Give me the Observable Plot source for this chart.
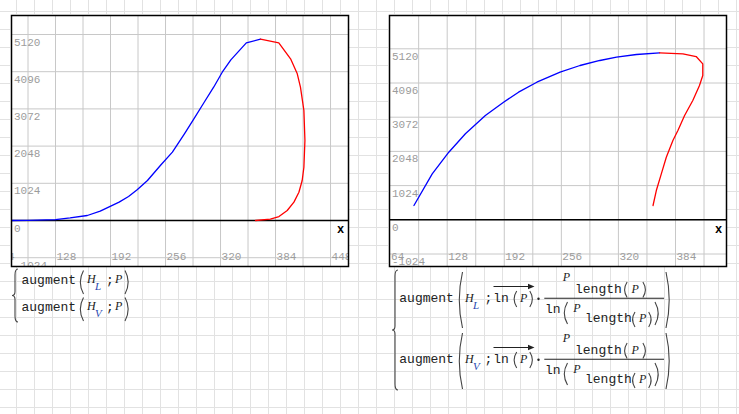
<!DOCTYPE html>
<html><head><meta charset="utf-8">
<script src="https://cdn.jsdelivr.net/npm/d3@7"></script>
<script src="https://cdn.jsdelivr.net/npm/@observablehq/plot@0.6"></script>
<style>
body{margin:0;background:#fff;}
#page{position:relative;width:739px;height:414px;overflow:hidden;background-color:#fff;
background-image:linear-gradient(to right,#e2e2e2 1px,transparent 1px),linear-gradient(to bottom,#e2e2e2 1px,transparent 1px);
background-size:18px 18px;background-position:16px 11px;}
.plotbox{position:absolute;}
#formulas{position:absolute;left:0;top:0;}
</style></head><body><div id="page">
<div id="left" class="plotbox" style="left:10px;top:14px"></div>
<div id="right" class="plotbox" style="left:388px;top:14px"></div>
<svg id="formulas" width="739" height="414"></svg>
</div>
<script>
// ---- data ----
// Left plot: augment(H_L ; P) (blue) and augment(H_V ; P) (red)
const leftLiquidH = [76, 96, 128, 145, 165, 180, 202, 213, 223, 235, 250, 264, 278, 289, 301, 312, 322, 332, 350, 366.5];
const leftLiquidP = [0, 2, 27, 73, 138, 257, 505, 661, 845, 1101, 1514, 1881, 2386, 2799, 3256, 3669, 4082, 4423, 4891, 4991];
const leftVaporH = [360.7, 378, 388, 397.6, 405.4, 411.2, 415, 417, 418.2, 417, 413, 409.3, 401.5, 387.8, 366.5];
const leftVaporP = [0, 37, 110, 275, 505, 779, 1101, 1467, 2202, 3028, 3669, 4038, 4451, 4891, 4991];
// Right plot: augment(H ; ln(P)·P_last/ln(P_last))
const rightLiquidH = [90.7, 111.2, 129.8, 148.4, 170.8, 191.2, 208, 228.5, 254.6, 276.9, 299.2, 317.9, 340.2, 366.2];
const rightLiquidY = [428, 1377, 2024, 2575, 3123, 3521, 3821, 4120, 4419, 4620, 4770, 4868, 4949, 5000];
const rightVaporH = [358.8, 362.5, 368.1, 373.7, 381.1, 386.7, 394.2, 403.4, 410.9, 414.6, 414.6, 407.2, 392.3, 366.2];
const rightVaporY = [428, 877, 1377, 1874, 2375, 2674, 3123, 3572, 4021, 4320, 4670, 4889, 4970, 5000];
// ticks
const xGridLeft = [96, 128, 160, 192, 224, 256, 288, 320, 352, 384, 416, 448];
const xLabelsLeft = [64, 128, 192, 256, 320, 384, 448];
const xGridRight = [96, 128, 160, 192, 224, 256, 288, 320, 352, 384, 416];
const xLabelsRight = [64, 128, 192, 256, 320, 384];
const yTicks = [-1024, 0, 1024, 2048, 3072, 4096, 5120];

const zip = (xs, ys) => xs.map((x, i) => ({x, y: ys[i]}));

function chart({xDomain, yDomain, blue, red, xGrid, xLabels}) {
  const tick = {fill: "#9c9c9c", fontFamily: "Liberation Mono, monospace", fontSize: 11, clip: true};
  return Plot.plot({
    width: 339, height: 253,
    marginTop: 1, marginRight: 1, marginBottom: 1, marginLeft: 1,
    x: {domain: xDomain, axis: null},
    y: {domain: yDomain, axis: null},
    style: {background: "white", overflow: "visible"},
    marks: [
      Plot.ruleX(xGrid, {x: d => d, stroke: "#c8c8c8", strokeWidth: 1, strokeOpacity: 1}),
      Plot.ruleY(yTicks, {y: d => d, stroke: "#c8c8c8", strokeWidth: 1, strokeOpacity: 1}),
      Plot.ruleY([0], {y: d => d, stroke: "black", strokeWidth: 1.4, strokeOpacity: 1}),
      Plot.line(blue, {x: "x", y: "y", stroke: "#0000ff", strokeWidth: 1.3, clip: true}),
      Plot.line(red, {x: "x", y: "y", stroke: "#ff0000", strokeWidth: 1.3, clip: true}),
      Plot.text(xLabels, {x: d => d, text: d => String(d), frameAnchor: "bottom", textAnchor: "start", dx: 1, dy: -7, ...tick}),
      Plot.text(yTicks, {y: d => d, text: d => String(d), frameAnchor: "left", textAnchor: "start", dx: 2.5, dy: 7.5, ...tick}),
      Plot.text(["x"], {y: () => 0, text: d => d, frameAnchor: "right", textAnchor: "middle", dx: -8, dy: 9, fill: "black", fontWeight: "bold", fontFamily: "Liberation Mono, monospace", fontSize: 12}),
      Plot.frame({stroke: "black", strokeWidth: 1.5})
    ]
  });
}

document.getElementById("left").append(chart({
  xDomain: [76.8, 468.9], yDomain: [-1266, 5643],
  blue: zip(leftLiquidH, leftLiquidP), red: zip(leftVaporH, leftVaporP),
  xGrid: xGridLeft, xLabels: xLabelsLeft
}));
document.getElementById("right").append(chart({
  xDomain: [63.3, 441.2], yDomain: [-1398, 6117],
  blue: zip(rightLiquidH, rightLiquidY), red: zip(rightVaporH, rightVaporY),
  xGrid: xGridRight, xLabels: xLabelsRight
}));

// ---- formulas ----
const svg = d3.select("#formulas");
const ink = "#222";
const mono = "Liberation Mono, monospace";
const serif = "Liberation Serif, serif";
function txt(x, y, s, o = {}) {
  svg.append("text").attr("x", x).attr("y", y).text(s)
    .attr("font-family", o.family || mono).attr("font-size", o.size || 13)
    .attr("font-style", o.italic ? "italic" : "normal")
    .attr("fill", o.fill || ink);
}
function lparen(x, y0, y1) {
  const w = Math.min(4, (y1 - y0) / 5);
  svg.append("path").attr("d", `M${x + w},${y0} Q${x - w * 0.6},${(y0 + y1) / 2} ${x + w},${y1}`)
    .attr("fill", "none").attr("stroke", "#444").attr("stroke-width", 1.1);
}
function rparen(x, y0, y1) {
  const w = Math.min(4, (y1 - y0) / 5);
  svg.append("path").attr("d", `M${x - w},${y0} Q${x + w * 0.6},${(y0 + y1) / 2} ${x - w},${y1}`)
    .attr("fill", "none").attr("stroke", "#444").attr("stroke-width", 1.1);
}
function brace(x, y0, y1) {
  const m = (y0 + y1) / 2;
  svg.append("path").attr("d",
    `M${x + 3},${y0} Q${x},${y0} ${x},${y0 + 6} L${x},${m - 4} Q${x},${m} ${x - 3},${m} Q${x},${m} ${x},${m + 4} L${x},${y1 - 6} Q${x},${y1} ${x + 3},${y1}`)
    .attr("fill", "none").attr("stroke", "#444").attr("stroke-width", 1.1);
}
const subFill = "#2848b0";

// left formula block
brace(15, 269, 322);
["L", "V"].forEach((s, i) => {
  const b = 283.5 + i * 27;
  txt(21.5, b, "augment");
  lparen(79.5, b - 13, b + 10.5);
  txt(87, b - 0.5, "H", {family: serif, italic: true, size: 12});
  txt(95, b + 6, s, {family: serif, italic: true, size: 11, fill: subFill});
  txt(106, b, ";");
  txt(115, b - 0.5, "P", {family: serif, italic: true, size: 12});
  rparen(129, b - 13, b + 10.5);
});

// right formula block
brace(395, 270, 390);
["L", "V"].forEach((s, i) => {
  const o = i * 61;
  const b = 302 + o;
  txt(399.3, b, "augment");
  lparen(458.5, 272 + o, 328 + o);
  txt(465, b - 0.5, "H", {family: serif, italic: true, size: 12});
  txt(473, b + 7, s, {family: serif, italic: true, size: 11, fill: subFill});
  txt(484.5, b, ";");
  // overline arrow over ln(P)
  svg.append("line").attr("x1", 493.5).attr("x2", 533).attr("y1", 286.5 + o).attr("y2", 286.5 + o).attr("stroke", ink).attr("stroke-width", 1.1);
  svg.append("path").attr("d", `M534.5,${286.5 + o} L528,${283.8 + o} L528,${289.2 + o} Z`).attr("fill", ink);
  txt(493.3, b, "ln");
  lparen(513.5, 291 + o, 307 + o);
  txt(520, b - 0.5, "P", {family: serif, italic: true, size: 12});
  rparen(533, 291 + o, 307 + o);
  svg.append("circle").attr("cx", 538.5).attr("cy", 298.7 + o).attr("r", 1.2).attr("fill", ink);
  // fraction
  svg.append("line").attr("x1", 544.3).attr("x2", 664).attr("y1", 298.3 + o).attr("y2", 298.3 + o).attr("stroke", ink).attr("stroke-width", 1.1);
  // numerator
  txt(562.7, 280.5 + o, "P", {family: serif, italic: true, size: 12});
  txt(575, 293 + o, "length");
  lparen(624, 282 + o, 297.5 + o);
  txt(631.5, 292.5 + o, "P", {family: serif, italic: true, size: 12});
  rparen(646, 282 + o, 297.5 + o);
  // denominator
  txt(545, 312.7 + o, "ln");
  lparen(563.5, 302 + o, 324 + o);
  txt(573.3, 312.2 + o, "P", {family: serif, italic: true, size: 12});
  txt(585, 322.3 + o, "length");
  lparen(632, 312 + o, 327 + o);
  txt(639, 321.8 + o, "P", {family: serif, italic: true, size: 12});
  rparen(651.7, 312 + o, 327 + o);
  rparen(659, 302 + o, 325 + o);
  rparen(670, 272 + o, 328 + o);
});
</script>
</body></html>
